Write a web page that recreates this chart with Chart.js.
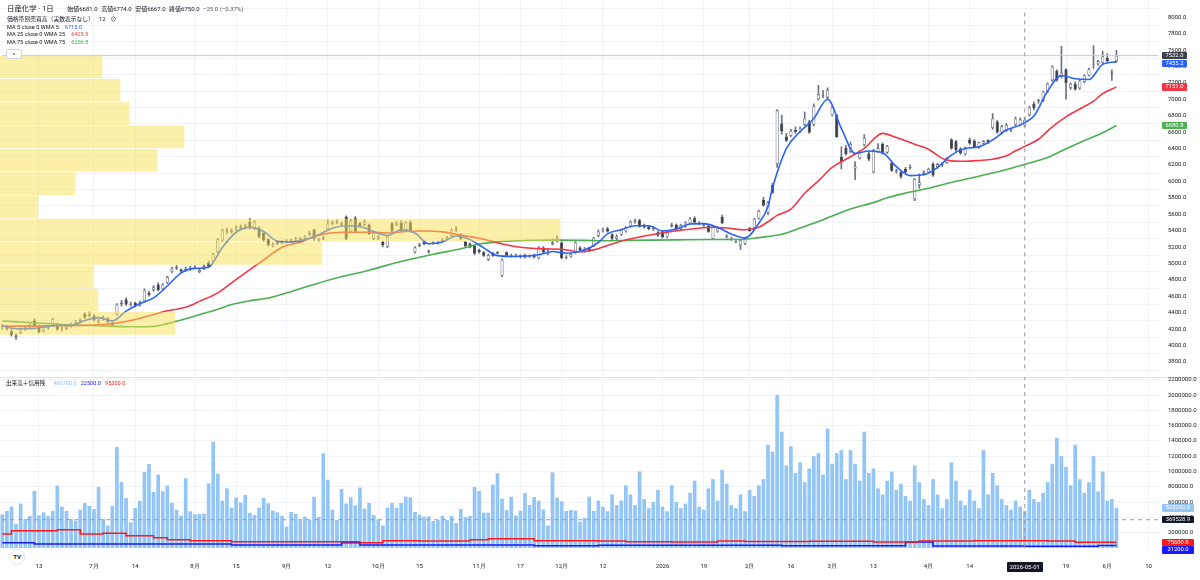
<!DOCTYPE html>
<html lang="ja">
<head>
  <meta charset="UTF-8">
  <title>日産化学 1日</title>
  <script src="https://cdn.jsdelivr.net/npm/chart.js"></script>
  <style>
    body { margin: 0; background: #fff; font-family: Roboto, "Noto Sans CJK JP", sans-serif; color: #131722; }
    #wrap { position: relative; width: 1200px; height: 580px; overflow: hidden; background: #fff; }
    #price-box { position: absolute; left: 0; top: 0; width: 1200px; height: 377px; }
    #vol-box { position: absolute; left: 0; top: 370px; width: 1200px; height: 210px; }
    .sep { position: absolute; left: 0; top: 377px; width: 1200px; height: 1px; background: #e0e3eb; }
    .t { position: absolute; white-space: nowrap; }
    .row { position: absolute; display: flex; align-items: baseline; white-space: nowrap; }
    .tag { position: absolute; height: 7.4px; line-height: 7.4px; font-size: 5.8px; text-align: center; color: #fff; border-radius: 1px; }
  </style>
</head>
<body>
<div id="wrap">
  <div id="price-box"><canvas id="price-chart"></canvas></div>
  <div class="sep"></div>
  <div id="vol-box"><canvas id="vol-chart"></canvas></div>

  <div class="row" style="left:7px;top:4px;font-size:6px;line-height:9px;gap:3.5px;">
    <span style="font-size:7.4px;margin-right:10px;">日産化学 · 1日</span>
    <span>始値6681.0</span><span>高値6774.0</span><span>安値6667.0</span><span>終値6750.0</span>
    <span style="color:#555;">−25.0 (−0.37%)</span>
  </div>
  <div class="row" style="left:7px;top:16px;font-size:5.8px;line-height:7px;gap:5px;">
    <span>価格帯別売買高（実数表示なし）</span><span>12</span><span>⊘</span>
  </div>
  <div class="row" style="left:7px;top:23.5px;font-size:5.6px;line-height:7px;gap:6px;">
    <span>MA 5 close 0 WMA 5</span><span style="color:#2962ff;">6715.0</span>
  </div>
  <div class="row" style="left:7px;top:31.2px;font-size:5.6px;line-height:7px;gap:6px;">
    <span>MA 25 close 0 WMA 25</span><span style="color:#f23645;">6425.9</span>
  </div>
  <div class="row" style="left:7px;top:39.2px;font-size:5.6px;line-height:7px;gap:6px;">
    <span>MA 75 close 0 WMA 75</span><span style="color:#4caf50;">6206.8</span>
  </div>
  <div class="t" style="left:6px;top:49px;width:14px;height:8px;border:1px solid #d1d4dc;border-radius:2px;background:#fff;font-size:6px;line-height:10px;text-align:center;">^</div>

  <div class="row" style="left:6px;top:379.5px;font-size:5.6px;line-height:7px;gap:4px;">
    <span style="margin-right:4px;">出来高＋信用残</span>
    <span style="color:#90c4f5;">486700.0</span><span style="color:#1a1aff;">22500.0</span><span style="color:#ff1a1a;">95300.0</span>
  </div>
  <div class="t" style="left:9px;top:549px;width:14px;height:14px;border-radius:50%;border:1px solid #e0e3eb;background:#fff;font-size:6px;font-weight:bold;line-height:14px;text-align:center;">TV</div>
</div>

<script>
  // trading days (categories), 2025-06-03 onwards, plus a few empty future slots
  var holidays = ['2025-07-21','2025-08-11','2025-09-15','2025-09-23','2025-10-13','2025-11-03','2025-11-24',
    '2025-12-31','2026-01-01','2026-01-02','2026-01-12','2026-02-11','2026-02-23','2026-03-20','2026-04-29',
    '2026-05-04','2026-05-05','2026-05-06'];
  var days = [];
  for (var d = new Date(Date.UTC(2025, 5, 3)); days.length < 253; d.setUTCDate(d.getUTCDate() + 1)) {
    var s = d.toISOString().slice(0, 10), wd = d.getUTCDay();
    if (wd !== 0 && wd !== 6 && holidays.indexOf(s) < 0) days.push(s);
  }

  // [slot, label] for the time axis
  var xTicks = [[8,'13'],[20,'7月'],[29,'14'],[42,'8月'],[51,'15'],[62,'9月'],[71,'12'],[82,'10月'],[91,'15'],
    [104,'11月'],[113,'17'],[122,'12月'],[131,'12'],[144,'2026'],[153,'19'],[163,'2月'],[172,'16'],[181,'3月'],
    [190,'13'],[202,'4月'],[211,'14'],[232,'19'],[241,'6月'],[250,'10']];
  var priceTicks = [3800,4000,4200,4400,4600,4800,5000,5200,5400,5600,5800,6000,6200,6400,6600,6800,7000,7200,7400,7600,7800,8000];
  var volTicks = [200000,400000,600000,800000,1000000,1200000,1400000,1600000,1800000,2000000,2200000];

  var open = [
    4230,4235,4175,4105,4155,4195,4225,4305,4225,4175, 4215,4265,4265,4195,4205,4235,4265,4285,4385,4360,
    4360,4290,4320,4330,4280,4380,4500,4560,4500,4520, 4490,4540,4640,4680,4745,4685,4765,4895,4955,4925,
    4915,4925,4945,4895,4935,5005,5025,5135,5280,5400, 5380,5410,5430,5450,5510,5430,5430,5370,5295,5210,
    5240,5250,5260,5265,5280,5300,5300,5350,5410,5290, 5300,5420,5480,5500,5470,5570,5390,5550,5490,5470,
    5470,5300,5300,5260,5200,5490,5470,5500,5410,5500, 5135,5225,5265,5135,5255,5245,5270,5290,5335,5400,
    5350,5260,5240,5215,5165,5135,5045,5125,5135,4850, 5135,5085,5095,5095,5105,5095,5105,5060,5195,5115,
    5235,5270,5255,5065,5085,5135,5195,5145,5185,5215, 5335,5390,5425,5355,5300,5350,5390,5450,5500,5525,
    5470,5450,5420,5380,5390,5320,5450,5470,5420,5450, 5490,5550,5480,5460,5460,5300,5390,5570,5320,5290,
    5260,5220,5240,5430,5430,5545,5775,5615,5955,6210, 6705,6545,6555,6625,6605,6690,6725,6690,7000,7040,
    7020,6805,6805,6300,6405,6360,6155,6280,6445,6340, 6110,6360,6455,6350,6225,6120,6110,6150,6160,5780,
    5955,6090,6110,6210,6170,6200,6225,6510,6490,6400, 6330,6510,6495,6405,6460,6500,6650,6730,6595,6625,
    6630,6690,6685,6681,6805,6945,6980,6980,7095,7230, 7345,7270,7365,7140,7190,7135,7210,7290,7425,7430,
    7445,7505,7310,7465];
  var high = [
    4255,4245,4195,4145,4215,4235,4265,4325,4235,4235, 4245,4335,4275,4225,4245,4275,4305,4325,4400,4410,
    4380,4320,4360,4340,4290,4510,4550,4580,4530,4530, 4540,4690,4660,4730,4765,4755,4845,4955,4975,4935,
    4955,4965,4975,4935,4985,5025,5125,5305,5420,5430, 5420,5460,5470,5480,5550,5520,5450,5380,5300,5250,
    5280,5280,5290,5300,5320,5320,5340,5390,5420,5310, 5330,5530,5520,5530,5500,5580,5540,5570,5500,5530,
    5480,5380,5340,5270,5330,5500,5510,5520,5510,5520, 5205,5245,5275,5165,5265,5265,5300,5330,5420,5450,
    5365,5270,5250,5225,5175,5145,5115,5135,5145,5055, 5145,5115,5115,5105,5115,5105,5115,5205,5205,5175,
    5295,5340,5265,5095,5125,5265,5205,5195,5195,5320, 5410,5430,5440,5360,5350,5420,5450,5520,5540,5540,
    5480,5460,5450,5390,5400,5390,5490,5480,5480,5510, 5560,5570,5510,5490,5470,5460,5440,5590,5350,5320,
    5280,5290,5320,5440,5550,5650,5805,5755,5975,6875, 6805,6585,6635,6665,6665,6845,6745,6945,7170,7110,
    7140,6915,6815,6420,6440,6480,6240,6370,6570,6360, 6390,6460,6470,6440,6240,6150,6120,6170,6200,6035,
    6090,6130,6160,6230,6220,6230,6290,6520,6500,6410, 6420,6530,6510,6480,6500,6510,6825,6745,6685,6705,
    6645,6785,6775,6774,6915,6970,7000,7100,7200,7410, 7360,7645,7370,7200,7210,7240,7300,7380,7655,7475,
    7585,7555,7360,7595];
  var low = [
    4195,4185,4115,4075,4145,4185,4215,4225,4155,4165, 4195,4255,4185,4175,4195,4225,4255,4275,4330,4350,
    4300,4270,4310,4280,4240,4370,4480,4490,4480,4470, 4480,4530,4600,4660,4665,4675,4755,4885,4925,4885,
    4905,4915,4935,4885,4925,4955,5015,5125,5270,5360, 5370,5400,5420,5420,5420,5410,5310,5270,5210,5200,
    5230,5240,5250,5260,5270,5270,5290,5340,5280,5270, 5290,5410,5470,5480,5460,5290,5380,5380,5440,5460,
    5350,5290,5290,5200,5190,5380,5460,5380,5400,5380, 5125,5205,5225,5125,5235,5235,5260,5280,5320,5390,
    5290,5200,5190,5105,5125,5085,5035,5085,5115,4835, 5085,5075,5075,5065,5065,5075,5065,5055,5125,5105,
    5225,5260,5055,5055,5075,5125,5155,5135,5145,5205, 5325,5380,5380,5290,5290,5340,5380,5440,5490,5440,
    5430,5410,5400,5330,5310,5310,5440,5410,5410,5440, 5480,5490,5470,5450,5380,5290,5380,5480,5310,5280,
    5250,5170,5230,5390,5420,5540,5695,5595,5855,6170, 6575,6485,6545,6585,6595,6675,6585,6675,6990,7020,
    7010,6795,6535,6150,6320,6350,6020,6270,6430,6250, 6100,6350,6330,6340,6120,6100,6040,6100,6150,5765,
    5915,6080,6100,6060,6160,6180,6220,6390,6360,6330, 6320,6450,6410,6400,6450,6460,6635,6585,6575,6605,
    6605,6675,6675,6667,6795,6870,6950,6970,7080,7220, 7220,7260,7000,7120,7110,7120,7200,7280,7375,7415,
    7435,7455,7230,7455];
  var close = [
    4240,4205,4130,4125,4195,4225,4250,4235,4165,4220, 4225,4325,4195,4205,4230,4265,4290,4310,4340,4380,
    4310,4305,4340,4290,4250,4500,4520,4500,4510,4485, 4525,4670,4620,4710,4675,4745,4835,4935,4940,4905,
    4935,4945,4955,4920,4965,4965,5115,5295,5410,5390, 5400,5440,5450,5460,5430,5510,5325,5280,5225,5235,
    5260,5265,5270,5280,5305,5290,5325,5370,5295,5295, 5315,5485,5505,5510,5490,5300,5525,5390,5450,5510,
    5360,5370,5330,5225,5325,5390,5495,5390,5500,5390, 5195,5215,5235,5155,5240,5255,5290,5315,5410,5420,
    5300,5210,5195,5120,5135,5095,5105,5095,5120,5045, 5095,5100,5090,5080,5075,5085,5075,5195,5135,5140,
    5255,5310,5065,5075,5115,5255,5165,5180,5155,5315, 5390,5415,5390,5300,5330,5410,5440,5510,5525,5450,
    5440,5420,5430,5340,5320,5380,5470,5420,5470,5500, 5545,5500,5500,5480,5385,5450,5430,5490,5340,5305,
    5270,5280,5310,5395,5545,5640,5705,5745,5860,6865, 6615,6495,6615,6605,6645,6765,6595,6915,7060,7050,
    7115,6900,6540,6240,6330,6455,6185,6360,6530,6265, 6380,6405,6340,6430,6130,6135,6055,6110,6175,6030,
    5990,6110,6150,6070,6210,6215,6280,6400,6380,6340, 6400,6460,6420,6475,6490,6470,6765,6595,6670,6685,
    6625,6765,6755,6750,6900,6890,6990,7095,7190,7400, 7230,7325,7195,7190,7120,7230,7290,7365,7430,7465,
    7525,7465,7330,7532];

  var volume = [
    440000,484000,540000,314000,580000,379000,418000,745000,427000,466000,
    418000,484000,815000,540000,484000,379000,357000,501000,588000,549000,
    510000,797000,379000,292000,549000,1320000,863000,654000,336000,523000,
    614000,993000,1098000,732000,959000,741000,815000,588000,501000,423000,
    911000,479000,440000,444000,449000,845000,1390000,972000,619000,780000,
    527000,658000,593000,693000,458000,431000,527000,654000,584000,488000,
    466000,418000,279000,471000,444000,362000,410000,366000,671000,405000,
    1237000,893000,501000,366000,771000,580000,662000,558000,789000,514000,
    588000,431000,375000,292000,527000,588000,527000,588000,671000,662000,
    471000,436000,410000,414000,353000,366000,418000,366000,418000,327000,
    510000,405000,418000,797000,745000,462000,462000,828000,976000,645000,
    497000,671000,423000,488000,719000,562000,667000,619000,505000,292000,
    989000,658000,610000,484000,497000,488000,344000,392000,671000,484000,
    620000,540000,480000,700000,560000,620000,820000,700000,560000,1000000,
    640000,520000,600000,760000,540000,480000,820000,600000,520000,580000,
    720000,880000,540000,500000,780000,900000,620000,1020000,840000,560000,
    520000,700000,480000,760000,680000,820000,900000,1350000,1260000,2000000,
    1520000,1080000,1330000,980000,1120000,860000,1040000,1200000,1240000,960000,
    1560000,1100000,1240000,1280000,900000,1280000,1100000,880000,1520000,980000,
    1040000,780000,700000,880000,1000000,760000,840000,680000,620000,1080000,
    860000,640000,560000,900000,700000,520000,640000,1120000,880000,620000,
    560000,760000,620000,520000,1280000,700000,980000,820000,640000,560000,
    500000,620000,540000,486700,760000,640000,600000,720000,860000,1100000,
    1440000,1200000,1060000,820000,1350000,900000,720000,860000,1200000,740000,
    1000000,620000,640000,525200];

  // moving averages, [slot, value]
  var ma5 = [[0,4240],[3,4205],[6,4205],[9,4225],[12,4245],[15,4245],[18,4305],[21,4340],[24,4300],[27,4420],
    [30,4510],[33,4580],[36,4725],[39,4885],[42,4940],[45,4955],[48,5195],[51,5380],[54,5440],[57,5390],
    [60,5270],[63,5260],[66,5290],[69,5350],[72,5430],[75,5460],[78,5450],[81,5390],[84,5340],[87,5410],
    [90,5370],[93,5240],[96,5260],[99,5335],[102,5290],[105,5190],[108,5095],[111,5085],[114,5090],[117,5105],
    [120,5145],[123,5125],[127,5165],[130,5255],[132,5360],[135,5410],[138,5460],[141,5460],[144,5395],[147,5420],
    [150,5480],[153,5485],[156,5440],[159,5360],[162,5310],[165,5490],[167,5695],[168,5925],[171,6400],[174,6605],
    [177,6765],[180,7000],[183,6645],[186,6340],[189,6370],[192,6350],[195,6180],[198,6070],[201,6080],[204,6170],
    [207,6320],[210,6400],[213,6420],[216,6505],[219,6625],[222,6685],[223,6715],[225,6795],[228,7100],[231,7290],
    [234,7250],[237,7240],[240,7425],[243,7455.2]];
  var ma25 = [[0,4235],[10,4240],[20,4250],[25,4275],[29,4318],[32,4363],[36,4424],[40,4465],[43,4538],[47,4642],
    [50,4763],[54,4925],[58,5082],[61,5198],[65,5259],[69,5345],[74,5380],[80,5380],[84,5370],[88,5390],
    [92,5395],[96,5385],[100,5345],[105,5294],[109,5238],[113,5198],[118,5178],[122,5173],[126,5142],[130,5180],
    [134,5256],[140,5334],[146,5390],[151,5423],[155,5441],[158,5431],[162,5410],[165,5441],[167,5508],[169,5585],
    [172,5663],[175,5855],[178,6006],[181,6169],[185,6300],[188,6401],[192,6584],[195,6533],[199,6452],[202,6391],
    [205,6280],[207,6250],[210,6245],[213,6255],[216,6270],[219,6311],[221,6372],[223,6425.9],[226,6513],[229,6665],
    [232,6786],[235,6882],[238,6978],[240,7069],[243,7151]];
  var ma75 = [[0,4298],[7,4277],[14,4255],[21,4241],[28,4229],[33,4232],[36,4267],[40,4326],[43,4376],[47,4442],
    [50,4500],[54,4546],[58,4578],[61,4624],[65,4692],[72,4810],[80,4918],[87,5023],[94,5112],[100,5178],
    [104,5236],[109,5267],[116,5283],[122,5284],[127,5281],[131,5276],[137,5281],[147,5287],[155,5291],[161,5291],
    [165,5315],[170,5355],[174,5431],[179,5532],[185,5663],[190,5741],[193,5799],[197,5857],[202,5915],[206,5974],
    [212,6051],[218,6129],[223,6206.8],[228,6290],[232,6398],[236,6497],[240,6593],[243,6680.8]];

  // margin balances (信用買残 / 信用売残), [slot, value] where the weekly figure changes
  var marginBuy = [[0,183000],[2,226000],[12,239000],[17,183000],[22,192000],[27,161000],[33,135000],[36,109000],
    [41,96000],[50,83000],[78,70000],[83,96000],[91,92000],[102,109000],[106,122000],[116,96000],[130,90000],
    [136,83000],[146,78000],[156,92000],[162,85000],[176,88000],[190,80000],[200,90000],[212,96000],[223,95300],
    [228,90000],[234,75600],[243,75600]];
  var marginSell = [[0,70000],[7,52000],[50,40000],[74,70000],[78,40000],[116,30000],[130,35000],[170,30000],
    [197,80000],[203,25000],[223,22500],[239,31200],[243,31200]];

  // volume profile, 12 rows
  var profilePrice = [7393, 7109, 6825, 6541, 6257, 5973, 5689, 5405, 5121, 4837, 4553, 4269];
  var profileVolume = [1020000, 1200000, 1290000, 1840000, 1570000, 750000, 380000, 5600000, 3220000, 930000, 980000, 1750000];

  var lastPrice = 7532.0;
  var crossDate = '2026-05-01';
  var crossVolume = 369528.9;

  var tickFont = { family: 'Roboto', size: 6 };
  var gridColor = '#f0f3fa';
  var tickMap = {};
  xTicks.forEach(function (t) { tickMap[t[0]] = t[1]; });

  function pts(list) {
    return list.map(function (p) { return { x: days[p[0]], y: p[1] }; });
  }
  function maLine(list, color) {
    return { type: 'line', data: pts(list), borderColor: color, borderWidth: 1.6, pointRadius: 0,
      cubicInterpolationMode: 'monotone', order: 2 };
  }
  function xAxis(showLabels) {
    return {
      type: 'category', offset: true,
      grid: { color: gridColor, offset: false, drawTicks: false },
      border: { display: false },
      ticks: { display: showLabels, autoSkip: false, maxRotation: 0, padding: 15, color: '#131722', font: tickFont,
        callback: function (v) { return tickMap[v] || ''; } },
      afterBuildTicks: function (sc) { sc.ticks = xTicks.map(function (t) { return { value: t[0] }; }); },
      afterFit: function (sc) { sc.height = showLabels ? 32 : 0; sc.paddingLeft = 0; sc.paddingRight = 0; }
    };
  }
  function yAxis(min, max, values) {
    return {
      type: 'linear', position: 'right', min: min, max: max,
      grid: { color: gridColor, drawTicks: false }, border: { display: false },
      ticks: { padding: 8, color: '#131722', font: tickFont, callback: function (v) { return v.toFixed(1); } },
      afterBuildTicks: function (sc) { sc.ticks = values.map(function (v) { return { value: v }; }); },
      afterFit: function (sc) { sc.width = 40; sc.paddingTop = 0; sc.paddingBottom = 0; }
    };
  }

  var up = open.map(function (o, i) { return close[i] >= o; });

  var priceChart = new Chart(document.getElementById('price-chart'), {
    type: 'bar',
    data: {
      labels: days,
      datasets: [
        {
          type: 'bar', indexAxis: 'y', xAxisID: 'xp', yAxisID: 'y',
          data: profilePrice.map(function (p, i) { return { x: profileVolume[i], y: p }; }),
          backgroundColor: 'rgba(249, 224, 82, 0.5)', barThickness: 22, grouped: false, order: 0
        },
        {
          type: 'line', data: [{ x: crossDate, y: 3721 }, { x: crossDate, y: 8105 }],
          borderColor: '#9598a1', borderWidth: 1, borderDash: [4, 4], pointRadius: 0, order: 1
        },
        maLine(ma5, '#2962ff'),
        maLine(ma25, '#f23645'),
        maLine(ma75, '#4caf50'),
        {
          type: 'line', data: [{ x: days[0], y: lastPrice }, { x: days[days.length - 1], y: lastPrice }],
          borderColor: '#c9ccd4', borderWidth: 1, pointRadius: 0, order: 3
        },
        {
          type: 'bar', data: open.map(function (o, i) { return [o, close[i]]; }),
          backgroundColor: up.map(function (u) { return u ? '#ffffff' : '#363a45'; }),
          borderColor: up.map(function (u) { return u ? '#6f7280' : '#363a45'; }),
          borderWidth: 0.8, borderSkipped: false, grouped: false,
          barPercentage: 0.7, categoryPercentage: 1, order: 4
        },
        {
          type: 'bar', data: low.map(function (l, i) { return [l, high[i]]; }),
          backgroundColor: '#6f7280', barThickness: 1, grouped: false, order: 5
        }
      ]
    },
    options: {
      animation: false, responsive: true, maintainAspectRatio: false,
      layout: { padding: 0 },
      plugins: { legend: { display: false }, tooltip: { enabled: false } },
      scales: {
        x: xAxis(false),
        xp: { type: 'linear', axis: 'x', position: 'bottom', display: false, offset: false,
          grid: { offset: false }, min: 0, max: 11600000 },
        y: yAxis(3721, 8105, priceTicks)
      }
    }
  });

  var volMax = 2235300;
  var volChart = new Chart(document.getElementById('vol-chart'), {
    type: 'bar',
    data: {
      labels: days,
      datasets: [
        {
          type: 'line', data: [{ x: days[0], y: crossVolume }, { x: days[days.length - 1], y: crossVolume }],
          borderColor: '#9598a1', borderWidth: 1, borderDash: [4, 4], pointRadius: 0, order: 0
        },
        {
          type: 'line', data: [{ x: crossDate, y: 0 }, { x: crossDate, y: volMax }],
          borderColor: '#9598a1', borderWidth: 1, borderDash: [4, 4], pointRadius: 0, order: 0
        },
        {
          type: 'line', data: pts(marginBuy), stepped: true, borderColor: '#ff1a1a', borderWidth: 1.5,
          pointRadius: 0, order: 1
        },
        {
          type: 'line', data: pts(marginSell), stepped: true, borderColor: '#1a1aff', borderWidth: 1.5,
          pointRadius: 0, order: 1
        },
        {
          type: 'bar', data: volume, backgroundColor: '#93c6f6',
          barPercentage: 0.8, categoryPercentage: 1, order: 2
        }
      ]
    },
    options: {
      animation: false, responsive: true, maintainAspectRatio: false,
      layout: { padding: { top: 7 } },
      plugins: { legend: { display: false }, tooltip: { enabled: false } },
      scales: {
        x: xAxis(true),
        y: yAxis(0, volMax, volTicks)
      }
    }
  });

  // axis value tags, placed through the chart scales
  var wrap = document.getElementById('wrap');
  function placeTags(chart, top, tags, width) {
    var h = 7.4, prev = -100;
    tags.map(function (t) {
      return { t: t, y: top + chart.scales.y.getPixelForValue(t.v) - h / 2 };
    }).sort(function (a, b) { return a.y - b.y; }).forEach(function (o) {
      var y = Math.max(o.y, prev + h + 0.4);
      prev = y;
      var el = document.createElement('div');
      el.className = 'tag';
      el.style.left = '1162px';
      el.style.width = width + 'px';
      el.style.top = y + 'px';
      el.style.background = o.t.bg;
      el.textContent = o.t.text;
      wrap.appendChild(el);
    });
  }
  placeTags(priceChart, 0, [
    { v: lastPrice, text: '7532.0', bg: '#3d404a' },
    { v: ma5[ma5.length - 1][1], text: '7455.2', bg: '#2962ff' },
    { v: ma25[ma25.length - 1][1], text: '7151.0', bg: '#f23645' },
    { v: ma75[ma75.length - 1][1], text: '6680.8', bg: '#4caf50' }
  ], 25);
  placeTags(volChart, 370, [
    { v: volume[volume.length - 1], text: '525200.0', bg: '#93c6f6' },
    { v: crossVolume, text: '369528.9', bg: '#131722' },
    { v: marginBuy[marginBuy.length - 1][1], text: '75600.0', bg: '#ff1a1a' },
    { v: marginSell[marginSell.length - 1][1], text: '31200.0', bg: '#1a1aff' }
  ], 32);

  var dx = volChart.scales.x.getPixelForValue(days.indexOf(crossDate));
  var dt = document.createElement('div');
  dt.className = 'tag';
  dt.style.cssText += 'left:' + (dx - 18) + 'px;top:562px;width:36px;height:10px;line-height:10px;background:#131722;font-size:6px;';
  dt.textContent = crossDate;
  wrap.appendChild(dt);
</script>
</body>
</html>
